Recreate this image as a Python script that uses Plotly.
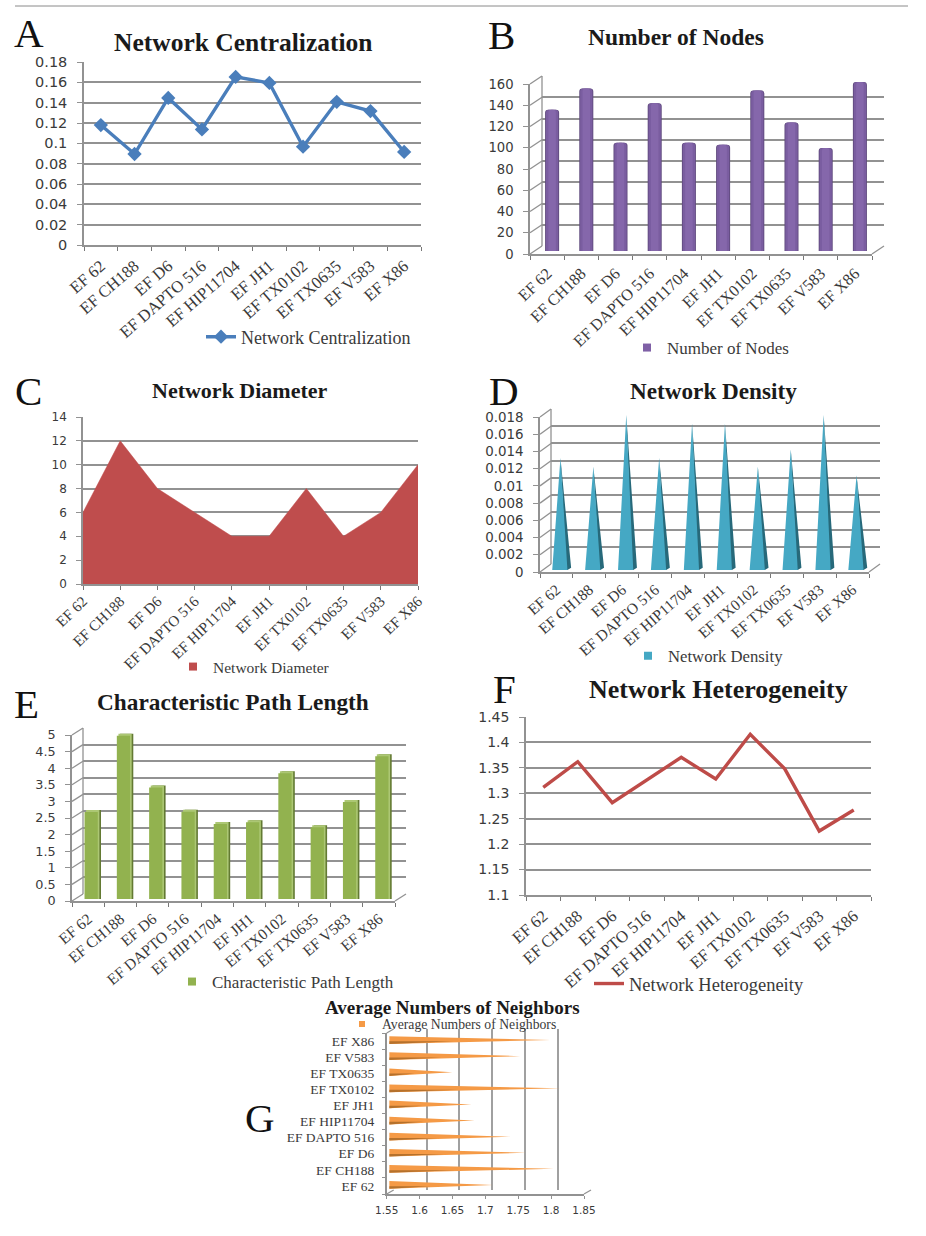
import plotly.graph_objects as go

W, H = 926, 1236
categories = ["EF 62", "EF CH188", "EF D6", "EF DAPTO 516", "EF HIP11704", "EF JH1",
              "EF TX0102", "EF TX0635", "EF V583", "EF X86"]
centralization = [0.118, 0.0895, 0.1447, 0.1137, 0.1653, 0.1594, 0.0967, 0.1408, 0.1317, 0.0915]
nodes = [133, 153, 102, 139, 102, 100, 151, 121, 97, 159]
diameter = [6, 12, 8, 6, 4, 4, 8, 4, 6, 10]
density = [0.013, 0.012, 0.018, 0.013, 0.017, 0.017, 0.012, 0.014, 0.018, 0.011]
path_length = [2.62, 4.92, 3.36, 2.63, 2.26, 2.31, 3.79, 2.16, 2.92, 4.3]
heterogeneity = [1.3117, 1.362, 1.2815, 1.326, 1.3707, 1.328, 1.416, 1.348, 1.2258, 1.267]
neighbors = [1.708, 1.80, 1.758, 1.734, 1.68, 1.675, 1.81, 1.646, 1.749, 1.795]

ticks_a = [0, 0.02, 0.04, 0.06, 0.08, 0.1, 0.12, 0.14, 0.16, 0.18]
ticks_b = [0, 20, 40, 60, 80, 100, 120, 140, 160]
ticks_c = [0, 2, 4, 6, 8, 10, 12, 14]
ticks_d = [0, 0.002, 0.004, 0.006, 0.008, 0.01, 0.012, 0.014, 0.016, 0.018]
ticks_e = [0, 0.5, 1, 1.5, 2, 2.5, 3, 3.5, 4, 4.5, 5]
ticks_f = [1.1, 1.15, 1.2, 1.25, 1.3, 1.35, 1.4, 1.45]
ticks_g = [1.55, 1.6, 1.65, 1.7, 1.75, 1.8, 1.85]

SERIF = "Liberation Serif"
SANS = "DejaVu Sans"
GRID = "#929292"
TXT = "#3a3a3a"
idx = list(range(len(categories)))

fig = go.Figure()
layout = dict(width=W, height=H, autosize=False, margin=dict(l=0, r=0, t=0, b=0, autoexpand=False),
              paper_bgcolor="white", plot_bgcolor="rgba(0,0,0,0)",
              barmode="overlay", hovermode=False, showlegend=True)
shapes, annotations = [], []
counter = [0]
legend_no = [0]


def new_axes(x0, x1, ytop, ybot, xr, yr, **kw):
    counter[0] += 1
    n = counter[0]
    sx = "" if n == 1 else str(n)
    xa = dict(domain=[x0 / W, x1 / W], range=xr, anchor="y" + sx, showgrid=False, zeroline=False,
              showline=False, showticklabels=False, ticks="", fixedrange=True)
    ya = dict(domain=[1 - ybot / H, 1 - ytop / H], range=yr, anchor="x" + sx, showgrid=False,
              zeroline=False, showline=False, showticklabels=False, ticks="", fixedrange=True)
    xa.update(kw.get("x", {}))
    ya.update(kw.get("y", {}))
    layout["xaxis" + sx] = xa
    layout["yaxis" + sx] = ya
    # an axis pair only appears when a trace refers to it
    fig.add_trace(go.Scatter(x=[None], y=[None], mode="lines", showlegend=False,
                             xaxis="x" + sx, yaxis="y" + sx))
    return "x" + sx, "y" + sx


def add_legend(x, y, size, indentation=-14):
    legend_no[0] += 1
    key = "legend" if legend_no[0] == 1 else f"legend{legend_no[0]}"
    layout[key] = dict(x=x / W, y=1 - y / H, xanchor="left", yanchor="middle",
                       bgcolor="rgba(0,0,0,0)", borderwidth=0, indentation=indentation,
                       font=dict(family=SERIF, size=size, color=TXT))
    return key


def square_legend(name, color, key, xa, ya, size=8):
    fig.add_trace(go.Scatter(x=[None], y=[None], mode="markers", name=name, legend=key,
                             marker=dict(symbol="square", size=size, color=color), xaxis=xa, yaxis=ya))


def title(text, x, y, size):
    annotations.append(dict(text=f"<b>{text}</b>", x=x / W, y=1 - y / H, xref="paper", yref="paper",
                            showarrow=False, xanchor="center", yanchor="middle",
                            font=dict(family=SERIF, size=size, color="#1a1a1a")))


def letter(text, x, y):
    annotations.append(dict(text=text, x=x / W, y=1 - y / H, xref="paper", yref="paper",
                            showarrow=False, xanchor="center", yanchor="middle",
                            font=dict(family=SERIF, size=41, color="#111111")))


def x_cat_axis(xr, lab, on_tick=False):
    size, angle, standoff = lab
    bounds = idx if on_tick else [i - 0.5 for i in idx] + [idx[-1] + 0.5]
    return dict(showticklabels=True, tickmode="array", tickvals=idx, ticktext=categories,
                tickangle=angle, tickfont=dict(family=SERIF, size=size, color=TXT),
                ticklabelstandoff=standoff,
                showline=True, linecolor=GRID, linewidth=1.5, range=xr, ticks="", ticklen=0,
                minor=dict(tickmode="array", tickvals=bounds, ticks="outside", ticklen=4,
                           tickcolor="#777777", tickwidth=1))


def y_num_axis(vals, size, yr):
    return dict(showticklabels=True, tickmode="array", tickvals=vals, ticktext=[str(v) for v in vals],
                tickfont=dict(family=SANS, size=size, color=TXT), range=yr, showline=True,
                linecolor=GRID, linewidth=1.5, ticks="outside", ticklen=5, tickcolor=GRID,
                tickwidth=1, ticklabelstandoff=7)


def flat_panel(x0, x1, ytop, ybot, yvals, ysize, xr, lab, on_tick=False):
    yr = [yvals[0], yvals[-1]]
    yax = y_num_axis(yvals, ysize, yr)
    yax.update(showgrid=True, gridcolor=GRID, gridwidth=1.5)
    return new_axes(x0, x1, ytop, ybot, xr, yr, x=x_cat_axis(xr, lab, on_tick), y=yax)


def line_seg(x0, y0, x1, y1, color=GRID, width=1.3):
    shapes.append(dict(type="line", xref="paper", yref="paper", x0=x0 / W, y0=1 - y0 / H,
                       x1=x1 / W, y1=1 - y1 / H, line=dict(color=color, width=width), layer="below"))


def wall_panel(x0, x1, ytop, ybot, yvals, ysize, dx, dy, mdx, mdy, lab):
    xr = [-0.5, 9.5]
    yr = [yvals[0], yvals[-1]]
    # back wall
    wall = dict(showgrid=True, gridcolor=GRID, gridwidth=1.5, tickmode="array", tickvals=yvals, range=yr)
    new_axes(x0 + dx, x1 + dx, ytop - dy, ybot - dy, xr, yr, y=wall)
    # front axes with labels
    new_axes(x0, x1, ytop, ybot, xr, yr, x=x_cat_axis(xr, lab), y=y_num_axis(yvals, ysize, yr))
    for v in yvals:
        f = (v - yr[0]) / (yr[1] - yr[0])
        yy = ybot - f * (ybot - ytop)
        line_seg(x0, yy, x0 + dx, yy - dy)
    line_seg(x0 + dx, ytop - dy, x0 + dx, ybot - dy)
    line_seg(x1, ybot, x1 + dx, ybot - dy)
    # layer with the marks
    return new_axes(x0 + mdx, x1 + mdx, ytop - mdy, ybot - mdy, xr, yr)


# ---------------- A
xa, ya = flat_panel(84, 421, 62, 245, ticks_a, 14.5, [-0.5, 9.5], (16.7, -41, 3))
key = add_legend(201, 337, 18, 0)
fig.add_trace(go.Scatter(x=idx, y=centralization, mode="lines+markers", name="Network Centralization",
                         line=dict(color="#4a7ebb", width=3.4),
                         marker=dict(symbol="diamond", size=11, color="#4a7ebb"),
                         legend=key, xaxis=xa, yaxis=ya))
title("Network Centralization", 243, 43, 25.5)
letter("A", 29, 33)

# ---------------- B
xa, ya = wall_panel(530, 872, 84, 254, ticks_b, 13.2, 12, 8, 5, 3, (16.2, -44, 2))
for w, c in [(0.41, "#5f4a7d"), (0.36, "#7a5da0"), (0.22, "#8567ab")]:
    fig.add_trace(go.Bar(x=idx, y=nodes, width=w, marker=dict(color=c, cornerradius=3, line_width=0),
                         showlegend=False, xaxis=xa, yaxis=ya))
key = add_legend(641, 348, 17)
square_legend("Number of Nodes", "#7f60a6", key, xa, ya)
title("Number of Nodes", 676, 37, 23.5)
letter("B", 501, 35)

# ---------------- C
xa, ya = flat_panel(83, 418, 417, 584, ticks_c, 12, [0, 9], (15, -44, 1), on_tick=True)
fig.add_trace(go.Scatter(x=idx, y=diameter, mode="lines", fill="tozeroy", fillcolor="#bf4d4d",
                         line=dict(color="#bf4d4d", width=0.5), showlegend=False, xaxis=xa, yaxis=ya))
key = add_legend(187, 667, 15.5)
square_legend("Network Diameter", "#bf4d4d", key, xa, ya)
title("Network Diameter", 240, 390, 22)
letter("C", 29, 391)

# ---------------- D
xa, ya = wall_panel(540, 869, 417, 572, ticks_d, 13.4, 11, 8, 4, 2, (15.4, -41, 1))
half = 0.25
fx, fy, sx_, sy_ = [], [], [], []
lift = 0.00025
for i, v in zip(idx, density):
    fx += [i - half, i, i + half * 0.85, None]
    fy += [0, v, 0, None]
    sx_ += [i + half * 0.7, i, i + half * 1.3, i + half * 0.85, None]
    sy_ += [0, v, lift, 0, None]
fig.add_trace(go.Scatter(x=sx_, y=sy_, mode="lines", fill="toself", fillcolor="#27697a",
                         line=dict(width=0), showlegend=False, xaxis=xa, yaxis=ya))
fig.add_trace(go.Scatter(x=fx, y=fy, mode="lines", fill="toself", fillcolor="#45a8c4",
                         line=dict(width=0), showlegend=False, xaxis=xa, yaxis=ya))
key = add_legend(642, 656, 16.7)
square_legend("Network Density", "#45a8c4", key, xa, ya)
title("Network Density", 713, 391, 23.2)
letter("D", 504, 391)

# ---------------- E
xa, ya = wall_panel(72, 395, 735, 901, ticks_e, 12.8, 11, 7, 3, 2, (15.6, -40, 1))
cap = 0.06
topped = [v + cap for v in path_length]
fig.add_trace(go.Bar(x=[i + 0.1 for i in idx], y=topped, width=0.41,
                     marker=dict(color="#637a33", line_width=0), showlegend=False, xaxis=xa, yaxis=ya))
fig.add_trace(go.Bar(x=[i + 0.05 for i in idx], y=topped, width=0.41,
                     marker=dict(color="#acc774", line_width=0), showlegend=False, xaxis=xa, yaxis=ya))
fig.add_trace(go.Bar(x=idx, y=path_length, width=0.41,
                     marker=dict(color="#92b24f", line_width=0), showlegend=False, xaxis=xa, yaxis=ya))
key = add_legend(186, 982, 17)
square_legend("Characteristic Path Length", "#92b24f", key, xa, ya)
title("Characteristic Path Length", 233, 702, 23.3)
letter("E", 26, 704)

# ---------------- F
xa, ya = flat_panel(526, 871, 717, 895, ticks_f, 14, [-0.5, 9.5], (16.7, -41, 3))
key = add_legend(589, 984, 18.5, 0)
fig.add_trace(go.Scatter(x=idx, y=heterogeneity, mode="lines", name="Network Heterogeneity",
                         line=dict(color="#be4b48", width=3.4), legend=key, xaxis=xa, yaxis=ya))
title("Network Heterogeneity", 718.5, 689, 26)
letter("F", 504, 689)

# ---------------- G
gx0, gx1, gtop, gbot = 386.7, 584, 1033, 1194
gdx, gdy = 7, 4
xr_g = [ticks_g[0], ticks_g[-1]]
yr_g = [-0.5, 9.5]
new_axes(gx0 + gdx, gx1 + gdx, gtop - gdy, gbot - gdy, xr_g, yr_g,
         x=dict(showgrid=True, gridcolor="#a0a0a0", gridwidth=1.5, tickmode="array", tickvals=ticks_g))
new_axes(gx0, gx1, gtop, gbot, xr_g, yr_g,
         x=dict(showticklabels=True, tickmode="array", tickvals=ticks_g,
                ticktext=[str(v) for v in ticks_g], tickfont=dict(family=SANS, size=10.5, color=TXT),
                showline=True, linecolor=GRID, linewidth=1.5, ticks="outside", ticklen=3,
                tickcolor=GRID, range=xr_g, ticklabelstandoff=3),
         y=dict(showticklabels=True, tickmode="array", tickvals=idx, ticktext=categories,
                tickfont=dict(family=SERIF, size=13.5, color=TXT), showline=True, linecolor=GRID,
                linewidth=1.5, range=yr_g, ticks="", ticklabelstandoff=8,
                minor=dict(tickmode="array", tickvals=[i - 0.5 for i in idx] + [9.5],
                           ticks="outside", ticklen=3, tickcolor=GRID)))
line_seg(gx0, gbot, gx0 + gdx, gbot - gdy)
line_seg(gx1, gbot, gx1 + gdx, gbot - gdy)
line_seg(gx0, gtop, gx0 + gdx, gtop - gdy)
xa, ya = new_axes(gx0 + 2.5, gx1 + 2.5, gtop - 1, gbot - 1, xr_g, yr_g)
cx, cy, dx_, dy_ = [], [], [], []
hw = 0.24
for i, v in zip(idx, neighbors):
    cx += [ticks_g[0], v, ticks_g[0], None]
    cy += [i - hw, i, i + hw, None]
    dx_ += [ticks_g[0], ticks_g[0] + (v - ticks_g[0]) * 0.4, ticks_g[0], None]
    dy_ += [i - hw, i - 0.08, i - 0.08, None]
fig.add_trace(go.Scatter(x=cx, y=cy, mode="lines", fill="toself", fillcolor="#f59a46",
                         line=dict(width=0), showlegend=False, xaxis=xa, yaxis=ya))
fig.add_trace(go.Scatter(x=dx_, y=dy_, mode="lines", fill="toself", fillcolor="#b5712c",
                         line=dict(width=0), showlegend=False, xaxis=xa, yaxis=ya))
key = add_legend(356, 1024, 13.7)
square_legend("Average Numbers of Neighbors", "#f59a46", key, xa, ya, 6)
title("Average Numbers of Neighbors", 452.5, 1007, 19)
letter("G", 260, 1118)

# top rule
shapes.append(dict(type="line", xref="paper", yref="paper", x0=15 / W, x1=908 / W, y0=1 - 6 / H, y1=1 - 6 / H,
                   line=dict(color="#8a8a8a", width=1)))

layout["shapes"] = shapes
layout["annotations"] = annotations
fig.update_layout(**layout)
fig.write_html("out.html", config={"displayModeBar": False},
               post_script="document.body.style.margin='0';document.body.style.overflow='hidden';")
